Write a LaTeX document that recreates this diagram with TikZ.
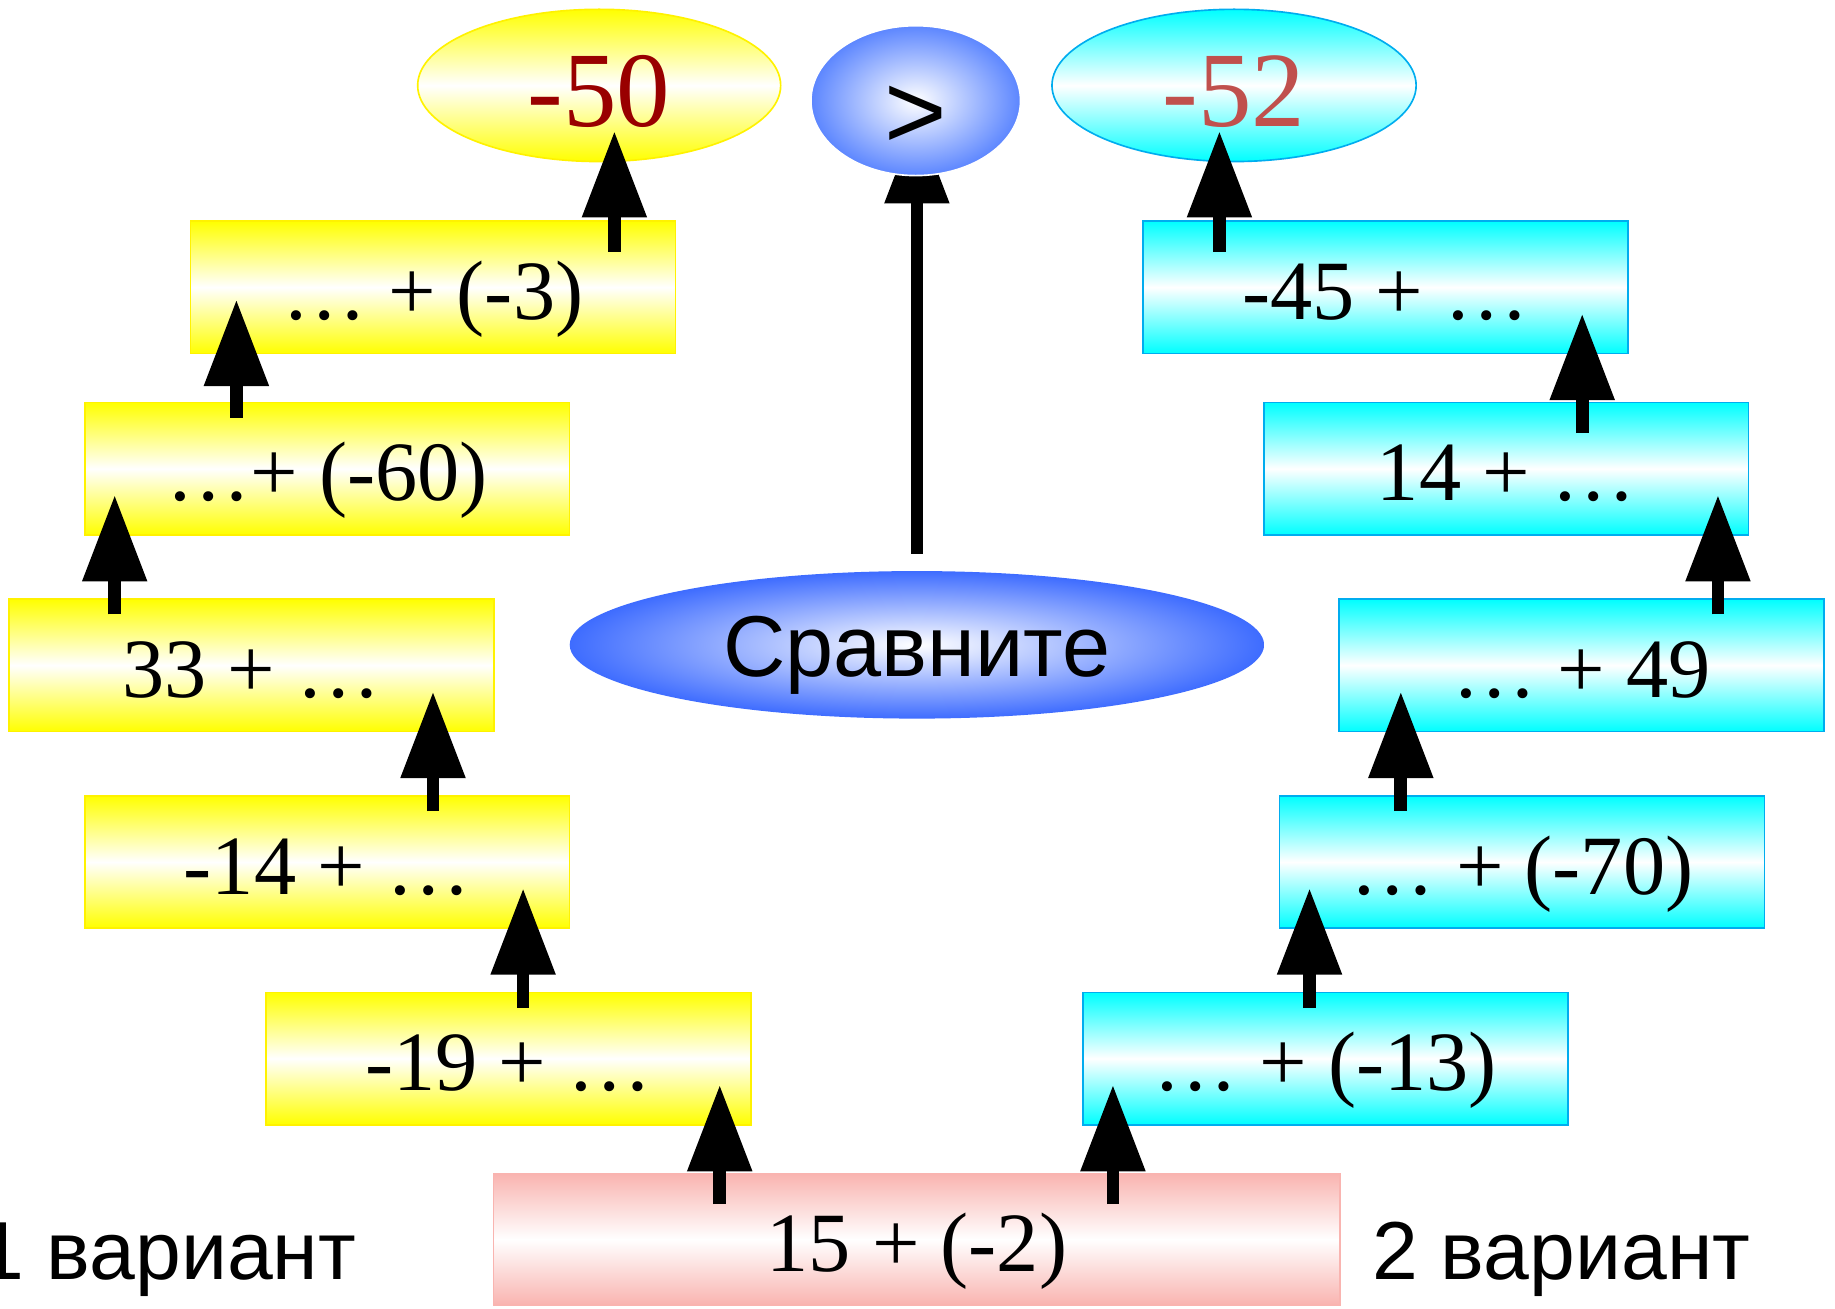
\documentclass[tikz,border=0pt]{standalone}
\usepackage{fontspec}
\setmainfont{Liberation Serif}
\newfontfamily\arial{Liberation Sans}
\usetikzlibrary{calc}
\usetikzlibrary{shapes.geometric}
\usetikzlibrary{arrows.meta}

\definecolor{rosa}{RGB}{249,180,176}
\definecolor{rossoscuro}{RGB}{153,0,0}
\definecolor{rossochiaro}{RGB}{192,80,77}
\definecolor{blu}{RGB}{92,134,255}
\definecolor{bluforte}{RGB}{62,108,255}

\begin{document}
\begin{tikzpicture}[x=0.01cm, y=-0.01cm,
  casella/.style={rectangle, minimum width=4.14cm, minimum height=1.13cm, inner sep=0pt,
    text height=0.55cm, text depth=0pt, font=\fontsize{20.5}{24}\selectfont},
  gialla/.style={casella, draw=yellow, top color=yellow, bottom color=yellow, middle color=white},
  azzurra/.style={casella, draw=cyan, top color=cyan, bottom color=cyan, middle color=white},
  risultato/.style={ellipse, minimum width=3.1cm, minimum height=1.3cm, inner sep=0pt,
    text height=0.7cm, text depth=0pt, font=\fontsize{26}{30}\selectfont},
  variante/.style={font=\arial\fontsize{20}{24}\selectfont, inner sep=0pt},
  freccia/.style={line width=3.1pt, -{Triangle[width=15pt, length=21pt]}}]

%Fissa il riquadro della figura
\path[use as bounding box, fill=white] (0,0) rectangle (1568,1118);

%Disegna le caselle del primo variante (gialle)
\node[gialla] (l1) at (370,245.5) {… + (-3)};
\node[gialla] (l2) at (279.5,400.5) {…+ (-60)};
\node[gialla] (l3) at (215,568.5) {33 + …};
\node[gialla] (l4) at (279.5,736.5) {-14 + …};
\node[gialla] (l5) at (434.5,904.5) {-19 + …};

%Disegna le caselle del secondo variante (azzurre)
\node[azzurra] (r1) at (1184,245.5) {-45 + …};
\node[azzurra] (r2) at (1287,400.5) {14 + …};
\node[azzurra] (r3) at (1351.5,568.5) {… + 49};
\node[azzurra] (r4) at (1300.5,736.5) {… + (-70)};
\node[azzurra] (r5) at (1132.5,904.5) {… + (-13)};

%La casella di partenza
\node[casella, minimum width=7.23cm, minimum height=1.12cm, draw=rosa,
  top color=rosa, bottom color=rosa, middle color=white] (inizio) at (783.5,1059) {15 + (-2)};

%I risultati
\node[risultato, draw=yellow, top color=yellow, bottom color=yellow, middle color=white,
  text=rossoscuro] (e50) at (512,73) {-50};
\node[risultato, minimum width=3.11cm, draw=cyan, top color=cyan, bottom color=cyan,
  middle color=white, text=rossochiaro] (e52) at (1054.5,73) {-52};

%Ellisse "Sravnite"
\node[ellipse, minimum width=5.93cm, minimum height=1.26cm, inner sep=0pt, inner color=white,
  outer color=bluforte, text height=0.54cm, text depth=0pt,
  font=\arial\fontsize{21}{25}\selectfont] (confronta) at (783.5,551) {Сравните};

%Le scritte dei varianti
\node[variante, anchor=base east] (v1) at (305,1093) {1 вариант};
\node[variante, anchor=base west] (v2) at (1172,1093) {2 вариант};

%Disegna le frecce
\draw[freccia] ($(l1)+(155,-30.5)$) -- ($(e50)+(13,39)$);
\draw[freccia] ($(l2)+(-77.5,-43.5)$) -- ($(l1)+(-168,10.5)$);
\draw[freccia] ($(l3)+(-117,-43.5)$) -- ($(l2)+(-181.5,22.5)$);
\draw[freccia] ($(l4)+(90.5,-43.5)$) -- ($(l3)+(155,22.5)$);
\draw[freccia] ($(l5)+(12.5,-43.5)$) -- ($(l4)+(167.5,22.5)$);
\draw[freccia] ($(inizio)+(-168.5,-30)$) -- ($(l5)+(180.5,22.5)$);
\draw[freccia] ($(inizio)+(167.5,-30)$) -- ($(r5)+(-181.5,22.5)$);
\draw[freccia] ($(r5)+(-13.5,-43.5)$) -- ($(r4)+(-181.5,22.5)$);
\draw[freccia] ($(r4)+(-103.5,-43.5)$) -- ($(r3)+(-154.5,22.5)$);
\draw[freccia] ($(r3)+(116.5,-43.5)$) -- ($(r2)+(181,22.5)$);
\draw[freccia] ($(r2)+(65,-30.5)$) -- ($(r1)+(168,22.5)$);
\draw[freccia] ($(r1)+(-142,-30.5)$) -- ($(e52)+(-12.5,39)$);
\coordinate (punta) at (783.5,100);
\draw[freccia] ($(confronta)+(0,-78)$) -- (punta);

%Ellisse col segno (copre la punta della freccia)
\node[ellipse, minimum width=1.79cm, minimum height=1.28cm, inner sep=0pt, draw=white,
  inner color=white, outer color=blu, text height=0.82cm, text depth=0pt,
  font=\arial\fontsize{26}{30}\selectfont] (segno) at (782.5,86) {>};

\end{tikzpicture}
\end{document}
